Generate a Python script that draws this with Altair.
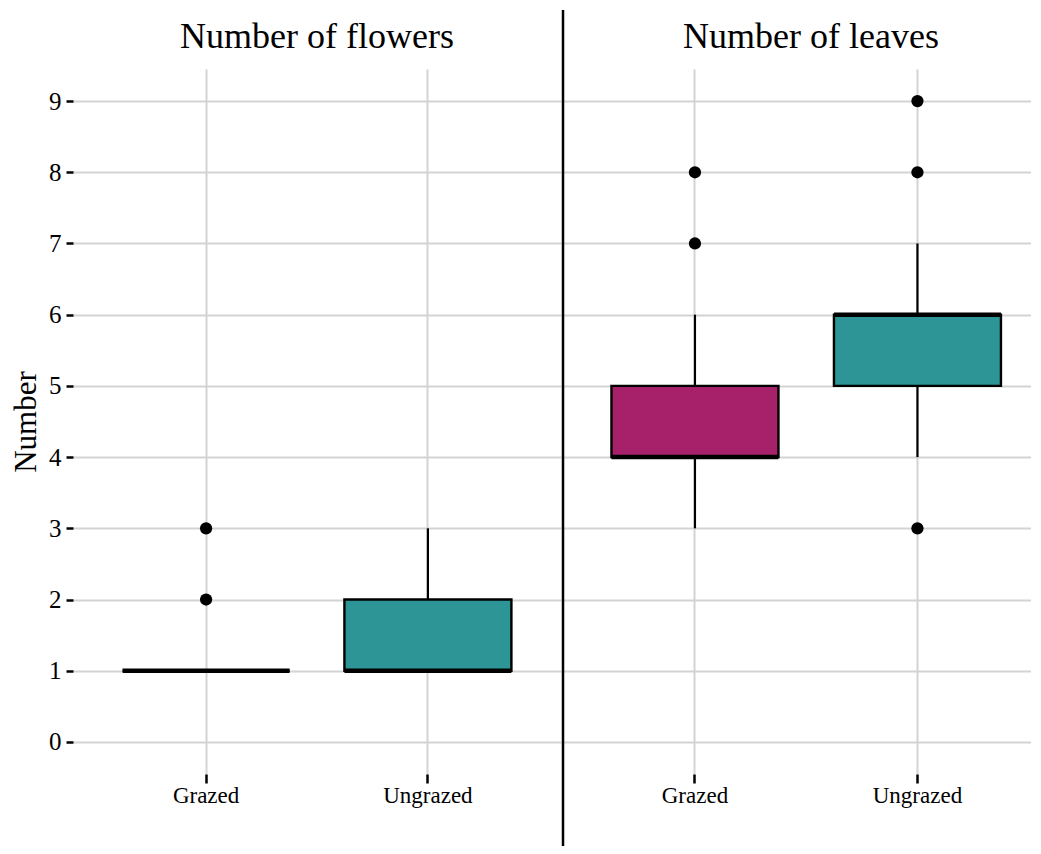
import altair as alt
import pandas as pd

# Box statistics
panels = ["Number of flowers", "Number of flowers", "Number of leaves", "Number of leaves"]
groups = ["Grazed", "Ungrazed", "Grazed", "Ungrazed"]
lower = [1, 1, 3, 4]
q1 = [1, 1, 4, 5]
median = [1, 1, 4, 6]
q3 = [1, 2, 5, 6]
upper = [1, 3, 6, 7]

# Outliers
out_panels = ["Number of flowers", "Number of flowers", "Number of leaves", "Number of leaves",
              "Number of leaves", "Number of leaves", "Number of leaves"]
out_groups = ["Grazed", "Grazed", "Grazed", "Grazed", "Ungrazed", "Ungrazed", "Ungrazed"]
out_values = [2, 3, 7, 8, 3, 8, 9]

categories = ["Grazed", "Ungrazed"]
colors = ["#A6216A", "#2E9597"]
y_ticks = list(range(10))

FONT = "Liberation Serif"
GRID = "#D3D3D3"

box_df = pd.DataFrame({"panel": panels, "group": groups, "lower": lower, "q1": q1,
                       "median": median, "q3": q3, "upper": upper})
out_df = pd.DataFrame({"panel": out_panels, "group": out_groups, "value": out_values})

yscale = alt.Scale(domain=[-0.45, 9.45], nice=False, zero=False)


def make_panel(name, left):
    if left:
        xscale = alt.Scale(domain=categories, paddingInner=0, paddingOuter=0.1)
        width = 488
        yaxis = alt.Axis(title="Number", values=y_ticks, grid=True, gridColor=GRID, gridWidth=2,
                         domain=False, tickColor="black", tickSize=7, tickWidth=2.5,
                         labelFont=FONT, labelFontSize=25, labelColor="black", labelPadding=5,
                         titleFont=FONT, titleFontSize=31, titleFontWeight="normal",
                         titleColor="black", titlePadding=6)
        ytitle = "Number"
        title_x = 244
    else:
        xscale = alt.Scale(domain=categories, paddingInner=0, paddingOuter=0.0517, align=0.9)
        width = 468
        yaxis = alt.Axis(title=None, values=y_ticks, grid=True, gridColor=GRID, gridWidth=2,
                         domain=False, ticks=False, labels=False)
        ytitle = None
        title_x = 248
    xaxis = alt.Axis(title=None, labelAngle=0, domain=False, grid=True, gridColor=GRID,
                     gridWidth=2, bandPosition=0.5, tickColor="black", tickSize=9, tickWidth=2.5,
                     labelFont=FONT, labelFontSize=23, labelColor="black", labelPadding=1)

    bd = box_df[box_df.panel == name]
    od = out_df[out_df.panel == name]
    x = alt.X("group:N", scale=xscale, axis=xaxis, title=None)

    base = alt.Chart(bd).encode(x=x)
    whisk = base.mark_rule(color="black", strokeWidth=2.2).encode(
        y=alt.Y("lower:Q", scale=yscale, axis=yaxis, title=ytitle), y2="upper:Q")
    bars = base.mark_bar(stroke="black", strokeWidth=2.4, width=167).encode(
        y=alt.Y("q1:Q", scale=yscale, axis=yaxis, title=ytitle), y2="q3:Q",
        color=alt.Color("group:N", scale=alt.Scale(domain=categories, range=colors), legend=None))
    med = base.mark_tick(color="black", thickness=4.5, size=167, opacity=1).encode(
        y=alt.Y("median:Q", scale=yscale, axis=yaxis, title=ytitle))
    pts = alt.Chart(od).mark_circle(size=150, color="black", opacity=1).encode(
        x=x, y=alt.Y("value:Q", scale=yscale, axis=yaxis, title=ytitle))
    title = alt.Chart(pd.DataFrame({"t": [name]})).mark_text(
        font=FONT, fontSize=36, color="black", baseline="alphabetic", align="center").encode(
        text="t:N", x=alt.value(title_x), y=alt.value(-21))
    layers = [whisk, bars, med, pts, title]
    if not left:
        sep = alt.Chart(pd.DataFrame({"a": [0]})).mark_rule(color="black", strokeWidth=2.5).encode(
            x=alt.value(0), y=alt.value(-59), y2=alt.value(777))
        layers.append(sep)
    return alt.layer(*layers).properties(width=width, height=705)


chart = alt.hconcat(
    make_panel("Number of flowers", True),
    make_panel("Number of leaves", False),
    spacing=0,
).resolve_scale(color="shared").properties(
    padding={"left": 2, "top": 0, "right": 0, "bottom": 0}, background="white"
).configure_view(stroke=None)

chart.save("out.html", embed_options={"renderer": "svg", "actions": False})
